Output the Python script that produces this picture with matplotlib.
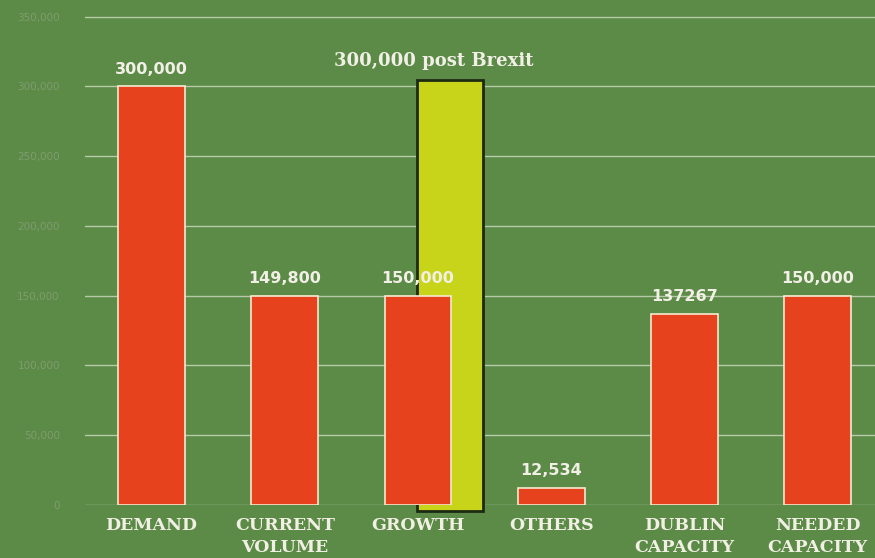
import numpy as np
import matplotlib.pyplot as plt

categories = ['DEMAND', 'CURRENT\nVOLUME', 'GROWTH', 'OTHERS', 'DUBLIN\nCAPACITY', 'NEEDED\nCAPACITY']
values = [300000, 149800, 150000, 12534, 137267, 150000]
value_labels = ['300,000', '149,800', '150,000', '12,534', '137267', '150,000']
brexit_value = 300000
brexit_label = '300,000 post Brexit'
yticks = np.arange(0, 350001, 50000)

bg = '#5b8b47'
red = '#e5421d'
yellow = '#c8d41a'

fig = plt.figure(figsize=(8.75, 5.58), dpi=100)
fig.patch.set_facecolor(bg)
ax = fig.add_axes([0.097, 0.095, 0.903, 0.905])
ax.set_facecolor(bg)

x = np.arange(len(categories))

# yellow "post Brexit" bar sits behind the growth bar (in the source it overshoots the line a bit)
ax.bar(x[2] + 0.24, brexit_value + 9000, width=0.5, bottom=-4000, color=yellow,
       edgecolor='#1c2a14', linewidth=2, zorder=2, clip_on=False)
ax.text(x[2] + 0.12, brexit_value + 12000, brexit_label, ha='center', va='bottom',
        color='#f2f0e6', fontsize=13, fontweight='bold', family='DejaVu Serif')

ax.bar(x, values, width=0.5, color=red, edgecolor='#f6ead0', linewidth=1.2, zorder=3)
for xi, v, lab in zip(x, values, value_labels):
    ax.text(xi, v + 7000, lab, ha='center', va='bottom', color='#f2f0e6',
            fontsize=11.5, fontweight='bold', zorder=4)

ax.set_xlim(-0.5, 5.43)
ax.set_ylim(0, 362000)
ax.set_yticks(yticks)
ax.set_yticklabels([f'{t:,}' if t else '0' for t in yticks], color='#7f9c70', fontsize=7.5)
ax.set_xticks(x)
ax.set_xticklabels(categories, color='#f2efe4', fontsize=12.5, fontweight='bold',
                   family='DejaVu Serif', linespacing=1.35)
ax.tick_params(axis='both', length=0)
ax.tick_params(axis='x', pad=9)
ax.tick_params(axis='y', pad=18)

ax.grid(axis='y', color='#cfdcc2', linewidth=1, alpha=0.8)
ax.set_axisbelow(True)
for s in ax.spines.values():
    s.set_visible(False)

fig.savefig('out.png', dpi=100, facecolor=bg)
